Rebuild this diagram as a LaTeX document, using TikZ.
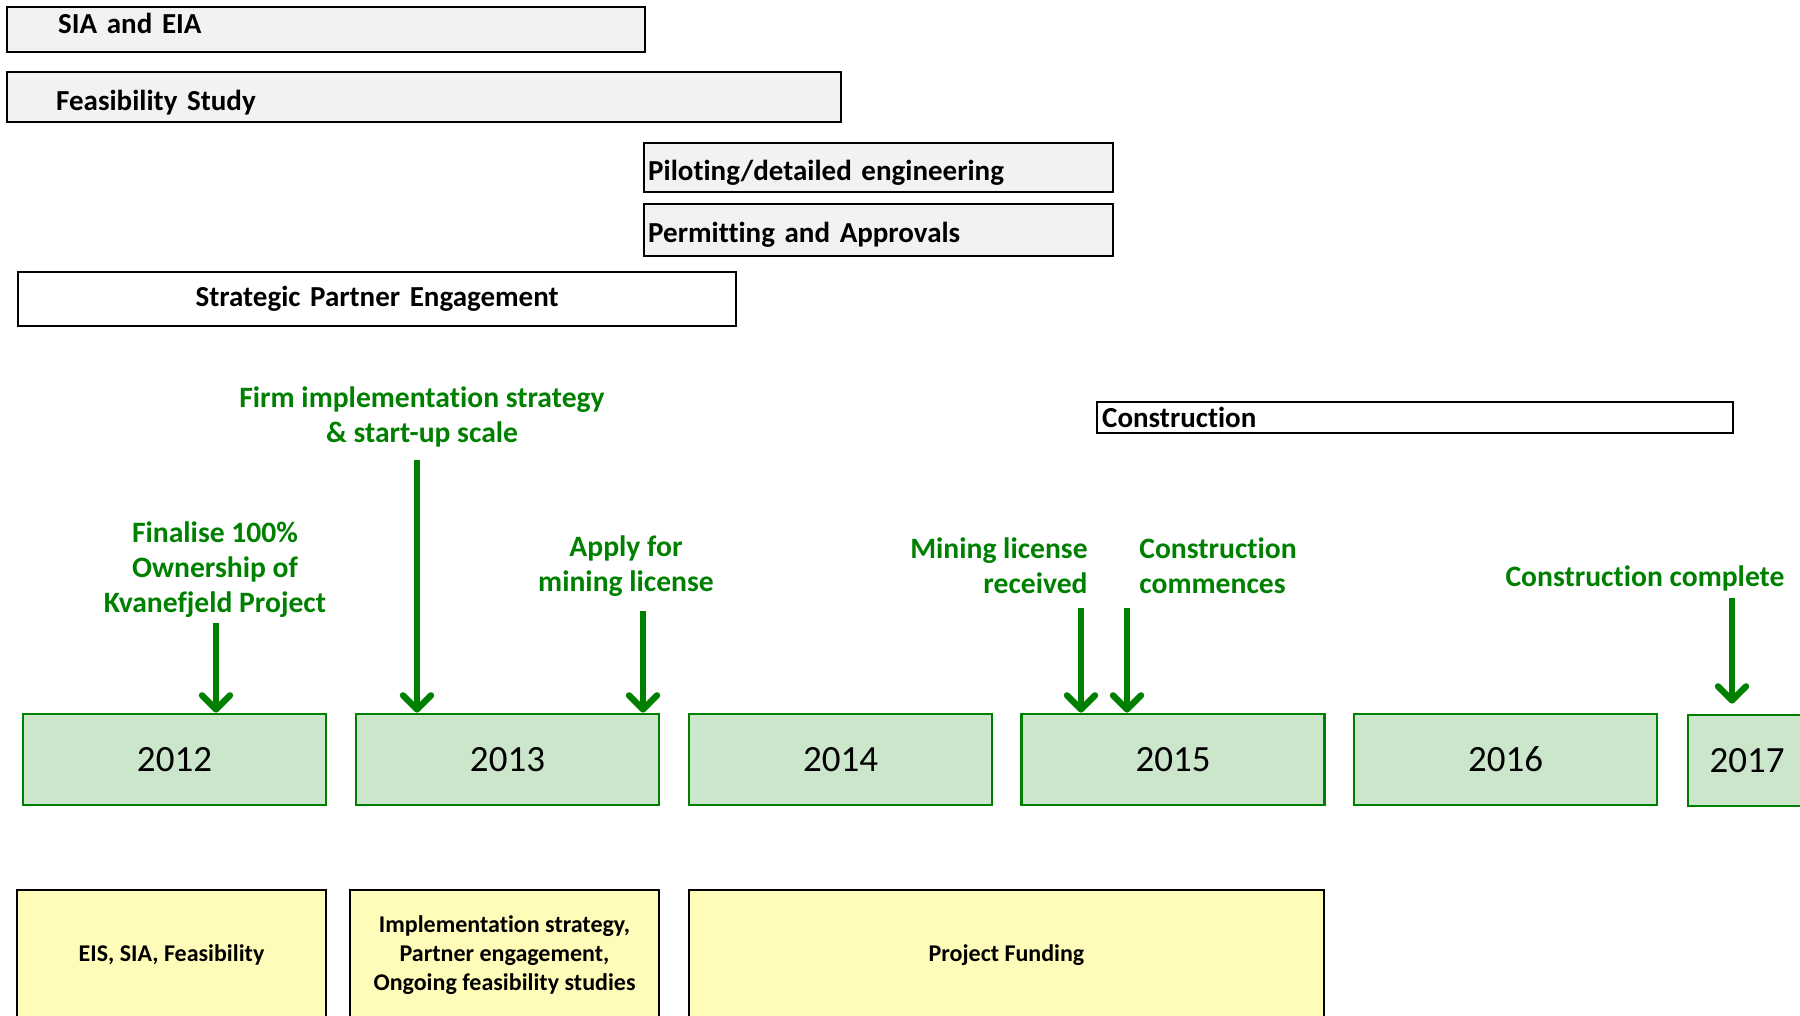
\documentclass[tikz,border=0pt]{standalone}
\usepackage{fontspec}
\setmainfont{Carlito}[Ligatures=NoCommon]
\usetikzlibrary{arrows.meta,positioning}
\definecolor{mgreen}{RGB}{0,128,0}

\begin{document}
\begin{tikzpicture}[x=0.5pt,y=-0.5pt]
	\tikzstyle{bar} = [draw=black,fill=black!5,line width=1.2pt,anchor=north west,inner ysep=0pt,align=left,font=\fontsize{14.5}{17}\selectfont\bfseries]
	\tikzstyle{yearbox} = [draw=mgreen,fill=mgreen!20,line width=1.4pt,minimum width=151.5pt,minimum height=45.5pt,inner sep=0pt,font=\fontsize{18.5}{22}\selectfont]
	\tikzstyle{notebox} = [draw=black,fill=yellow!28,line width=1.2pt,minimum height=65pt,inner sep=0pt,align=center,font=\fontsize{12}{14.5}\selectfont\bfseries]
	\tikzstyle{event} = [text=mgreen,inner sep=0pt,font=\fontsize{14.8}{17.5}\selectfont\bfseries]
	\tikzstyle{milestone} = [draw=mgreen,line width=3.2pt,-{Straight Barb[round,length=7pt,width=14pt]}]
	\useasboundingbox (0,0) rectangle (1800,1016);
	\clip (0,0) rectangle (1800,1016);
	% Activities
	\node[bar,minimum width=319pt,minimum height=22.5pt,inner xsep=25.5pt,text width=268pt] at (6,6)(sia) {\raisebox{6pt}{SIA and EIA}};
	\node[bar,minimum width=417pt,minimum height=25pt,inner xsep=24.5pt,text width=368pt,text height=15.5pt] at (6,71)(feas) {Feasibility Study};
	\node[bar,minimum width=234.5pt,minimum height=24.5pt,inner xsep=2pt,text width=230.5pt,text height=15.5pt] at (643,142)(pilot) {Piloting/detailed engineering};
	\node[bar,minimum width=234.5pt,minimum height=26pt,inner xsep=2pt,text width=230.5pt,text height=14.3pt] at (643,203)(permit) {Permitting and Approvals};
	\node[bar,fill=white,minimum width=359pt,minimum height=27pt,align=center,text width=355pt,inner xsep=2pt] at (17,271)(partner) {Strategic Partner Engagement};
	\node[bar,fill=white,minimum width=318pt,minimum height=15.5pt,inner xsep=2.5pt,text width=313pt] at (1096,401)(constr) {Construction};
	% Years
	\node[yearbox] at (174.5,759.5)(y2012) {2012};
	\node[yearbox] at (507.5,759.5)(y2013) {2013};
	\node[yearbox] at (840.5,759.5)(y2014) {2014};
	\node[yearbox] at (1173,759.5)(y2015) {2015};
	\node[yearbox] at (1505.5,759.5)(y2016) {2016};
	\node[yearbox,minimum width=59pt] at (1747,760.5)(y2017) {2017};
	% Milestones
	\node[event,align=center] at (422,417)(firm) {Firm implementation strategy\\\& start-up scale};
	\node[event,align=center] at (215,570)(own) {Finalise 100\%\\Ownership of\\Kvanefjeld Project};
	\node[event,align=center] at (626,566)(apply) {Apply for\\mining license};
	\node[event,align=right,anchor=east] at (1088,565.5)(mined) {Mining license\\received};
	\node[event,align=left,anchor=west] at (1139,565.5)(start) {Construction\\commences};
	\node[event] at (1645,578)(done) {Construction complete};
	% Arrows
	\coordinate (a1) at (216,623);
	\draw[milestone] (a1) -- (a1 |- y2012.north);
	\coordinate (a2) at (417,460);
	\draw[milestone] (a2) -- (a2 |- y2013.north);
	\coordinate (a3) at (643,611);
	\draw[milestone] (a3) -- (a3 |- y2013.north);
	\coordinate (a4) at (1081,608);
	\draw[milestone] (a4) -- (a4 |- y2015.north);
	\coordinate (a5) at (1127,608);
	\draw[milestone] (a5) -- (a5 |- y2015.north);
	\coordinate (a6) at (1732,598);
	\draw[milestone,shorten >=5pt] (a6) -- (a6 |- y2017.north);
	% Focus
	\node[notebox,minimum width=154.5pt] at (171.5,955)(focus1) {EIS, SIA, Feasibility};
	\node[notebox,minimum width=154.5pt] at (504.5,955)(focus2) {Implementation strategy,\\Partner engagement,\\Ongoing feasibility studies};
	\node[notebox,minimum width=317.5pt] at (1006.5,955)(focus3) {Project Funding};
\end{tikzpicture}
\end{document}
